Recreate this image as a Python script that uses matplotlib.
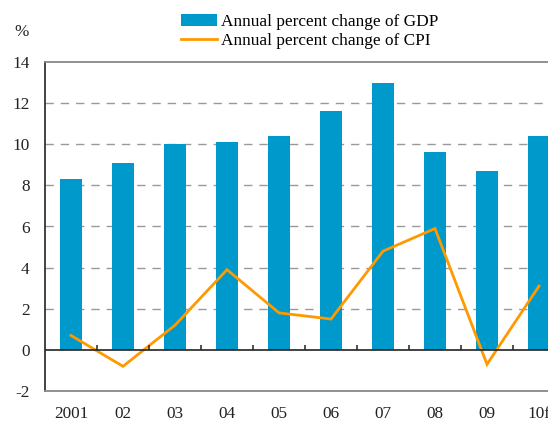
import matplotlib
matplotlib.use("Agg")
import matplotlib.pyplot as plt
from matplotlib.patches import Patch
from matplotlib.lines import Line2D
import numpy as np

years = ["2001", "02", "03", "04", "05", "06", "07", "08", "09", "10f"]
gdp = [8.3, 9.1, 10.0, 10.1, 10.4, 11.6, 13.0, 9.6, 8.7, 10.4]
cpi = [0.7, -0.8, 1.2, 3.9, 1.8, 1.5, 4.8, 5.9, -0.7, 3.1]
yticks = [-2, 0, 2, 4, 6, 8, 10, 12, 14]

BAR = "#0099CC"
LINE = "#FF9900"

plt.rcParams["font.family"] = ["Liberation Serif", "DejaVu Serif"]
plt.rcParams["font.size"] = 12.4

fig = plt.figure(figsize=(5.48, 4.23), dpi=100)
ax = fig.add_axes([45 / 548, 1 - 391 / 423, 520 / 548, (391 - 62) / 423])

x = np.arange(len(years))
ax.bar(x, gdp, width=0.44, color=BAR, zorder=2)
ax.plot(x, cpi, color=LINE, lw=2.0, zorder=3, solid_joinstyle="miter")

ax.set_xlim(-0.5, len(years) - 0.5)
ax.set_ylim(-2, 14)
ax.set_yticks(yticks)
ax.set_yticklabels([str(v) for v in yticks])
ax.set_xticks(x)
ax.set_xticklabels(years)
ax.tick_params(axis="x", length=0, pad=10.5, colors="#222222")
ax.tick_params(axis="y", length=0, pad=11, colors="#222222")

for v in yticks[2:-1]:
    ax.axhline(v, color="#999999", lw=1, dashes=(6, 5), zorder=1)
ax.axhline(0, color="#222222", lw=1.2, zorder=4)
bounds = np.arange(0.5, len(years) - 0.5, 1.0)
ax.vlines(bounds, 0, 0.25, color="#222222", lw=1.1, zorder=4)

for side in ["top", "bottom"]:
    ax.spines[side].set_color("#888888")
    ax.spines[side].set_linewidth(1.3)
ax.spines["left"].set_color("#222222")
ax.spines["left"].set_linewidth(1.2)
ax.spines["right"].set_visible(False)

fig.text(22 / 548, 1 - 32 / 423, "%", ha="center", va="center", color="#222222")

handles = [Patch(facecolor=BAR, edgecolor="none"), Line2D([], [], color=LINE, lw=2.0)]
fig.legend(handles, ["Annual percent change of GDP", "Annual percent change of CPI"],
           loc="upper left", bbox_to_anchor=(181 / 548, 1 - 14 / 423),
           frameon=False, borderpad=0, borderaxespad=0, handlelength=2.1,
           handleheight=0.65, handletextpad=0.25, labelspacing=0.15)

fig.savefig("out.png", dpi=100)
